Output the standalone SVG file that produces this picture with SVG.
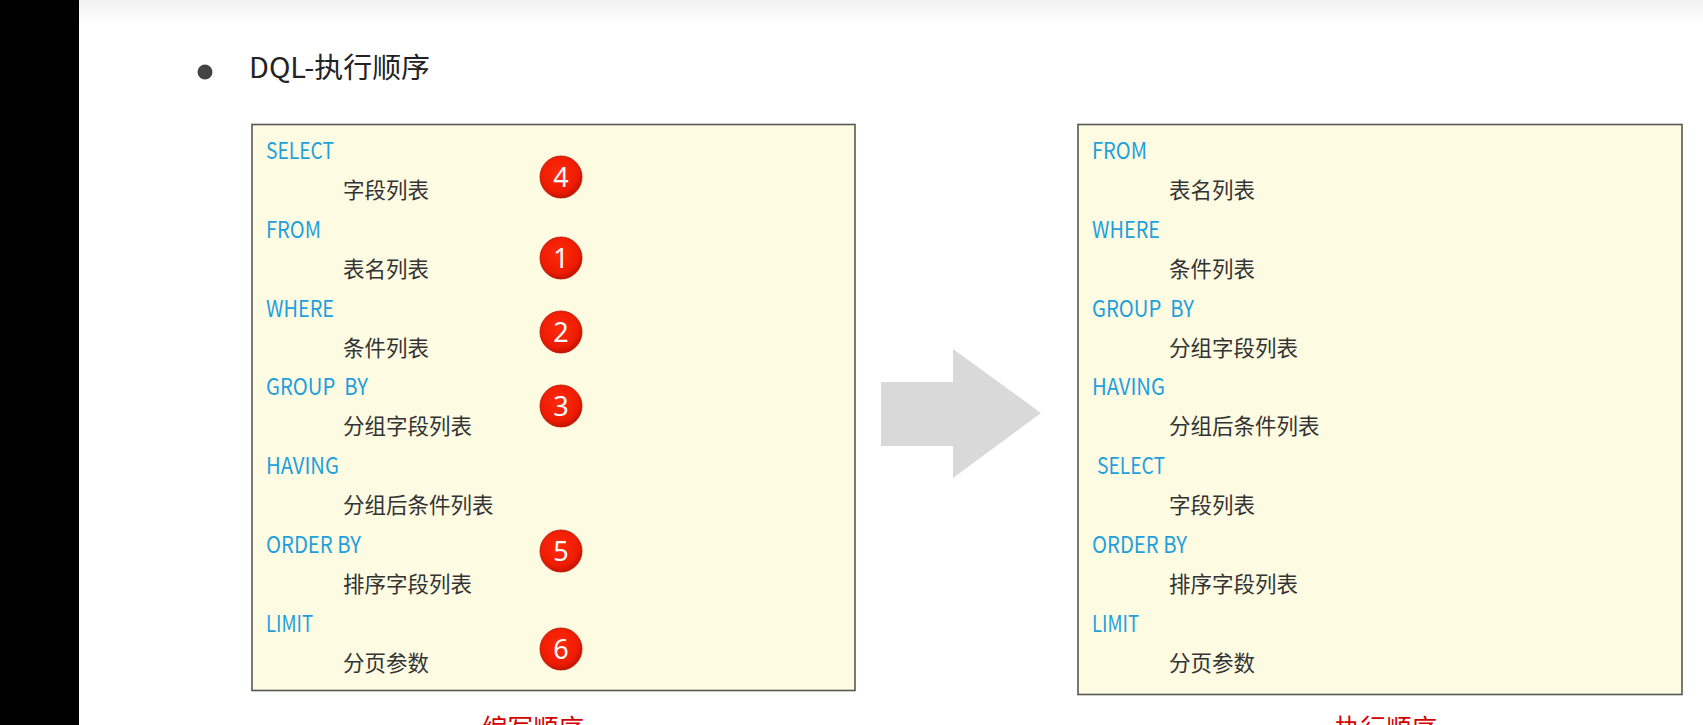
<svg xmlns="http://www.w3.org/2000/svg" width="1703" height="725" viewBox="0 0 1703 725">
<defs>
<linearGradient id="topband" x1="0" y1="0" x2="0" y2="1">
<stop offset="0" stop-color="#f1f1f1"/>
<stop offset="1" stop-color="#ffffff"/>
</linearGradient>
<radialGradient id="redball" cx="0.45" cy="0.4" r="0.6">
<stop offset="0" stop-color="#ff2a0c"/>
<stop offset="0.75" stop-color="#ee1c02"/>
<stop offset="1" stop-color="#c81200"/>
</radialGradient>
<style>
.box{fill:#fefbe3;stroke:#595953;stroke-width:1.6}
.kw{font-family:"Noto Sans CJK SC","Noto Sans",sans-serif;font-size:23px;fill:#1ea0dc;white-space:pre}
.cn{font-family:"Noto Sans CJK SC",sans-serif;font-size:21.5px;fill:#333333}
.ball{fill:url(#redball);stroke:#b51000;stroke-width:0.8}
.num{font-family:"Noto Sans","Noto Sans CJK SC",sans-serif;font-size:27px;fill:#ffffff;text-anchor:middle}
.title{font-family:"Noto Sans CJK SC",sans-serif;font-size:28px;fill:#222222}
.cap{font-family:"Noto Sans CJK SC",sans-serif;font-size:26px;fill:#d40000}
</style>
</defs>
<rect x="0" y="0" width="1703" height="725" fill="#ffffff"/>
<rect x="0" y="0" width="1703" height="26" fill="url(#topband)"/>
<rect x="0" y="0" width="79" height="725" fill="#000000"/>

<g id="title">
<circle cx="205" cy="72" r="7.5" fill="#444444"/>
<text class="title" x="249" y="78" textLength="181" lengthAdjust="spacingAndGlyphs">DQL-执行顺序</text>
</g>

<g id="write-order">
<rect class="box" x="252" y="124.5" width="603" height="566"/>
<text class="kw" x="266" y="159" textLength="68" lengthAdjust="spacingAndGlyphs">SELECT</text>
<text class="cn" x="343" y="198">字段列表</text>
<text class="kw" x="266" y="238" textLength="55" lengthAdjust="spacingAndGlyphs">FROM</text>
<text class="cn" x="343" y="277">表名列表</text>
<text class="kw" x="266" y="317" textLength="68" lengthAdjust="spacingAndGlyphs">WHERE</text>
<text class="cn" x="343" y="356">条件列表</text>
<text class="kw" x="266" y="395" textLength="102" lengthAdjust="spacingAndGlyphs">GROUP&#160; BY</text>
<text class="cn" x="343" y="434">分组字段列表</text>
<text class="kw" x="266" y="474" textLength="73" lengthAdjust="spacingAndGlyphs">HAVING</text>
<text class="cn" x="343" y="513">分组后条件列表</text>
<text class="kw" x="266" y="553" textLength="95" lengthAdjust="spacingAndGlyphs">ORDER BY</text>
<text class="cn" x="343" y="592">排序字段列表</text>
<text class="kw" x="266" y="632" textLength="47" lengthAdjust="spacingAndGlyphs">LIMIT</text>
<text class="cn" x="343" y="671">分页参数</text>
</g>

<g id="step-4"><circle class="ball" cx="561" cy="177" r="21"/><text class="num" x="561" y="186.5">4</text></g>
<g id="step-1"><circle class="ball" cx="561" cy="258" r="21"/><text class="num" x="561" y="267.5">1</text></g>
<g id="step-2"><circle class="ball" cx="561" cy="332" r="21"/><text class="num" x="561" y="341.5">2</text></g>
<g id="step-3"><circle class="ball" cx="561" cy="406" r="21"/><text class="num" x="561" y="415.5">3</text></g>
<g id="step-5"><circle class="ball" cx="561" cy="551" r="21"/><text class="num" x="561" y="560.5">5</text></g>
<g id="step-6"><circle class="ball" cx="561" cy="649" r="21"/><text class="num" x="561" y="658.5">6</text></g>

<g id="connectors">
<polygon points="881,382 953,382 953,349 1041,413 953,478 953,446 881,446" fill="#d9d9d9"/>
</g>

<g id="exec-order">
<rect class="box" x="1078" y="124.5" width="604" height="570"/>
<text class="kw" x="1092" y="159" textLength="55" lengthAdjust="spacingAndGlyphs">FROM</text>
<text class="cn" x="1169" y="198">表名列表</text>
<text class="kw" x="1092" y="238" textLength="68" lengthAdjust="spacingAndGlyphs">WHERE</text>
<text class="cn" x="1169" y="277">条件列表</text>
<text class="kw" x="1092" y="317" textLength="102" lengthAdjust="spacingAndGlyphs">GROUP&#160; BY</text>
<text class="cn" x="1169" y="356">分组字段列表</text>
<text class="kw" x="1092" y="395" textLength="73" lengthAdjust="spacingAndGlyphs">HAVING</text>
<text class="cn" x="1169" y="434">分组后条件列表</text>
<text class="kw" x="1097" y="474" textLength="68" lengthAdjust="spacingAndGlyphs">SELECT</text>
<text class="cn" x="1169" y="513">字段列表</text>
<text class="kw" x="1092" y="553" textLength="95" lengthAdjust="spacingAndGlyphs">ORDER BY</text>
<text class="cn" x="1169" y="592">排序字段列表</text>
<text class="kw" x="1092" y="632" textLength="47" lengthAdjust="spacingAndGlyphs">LIMIT</text>
<text class="cn" x="1169" y="671">分页参数</text>
</g>

<g id="labels">
<text class="cap" x="482" y="738" textLength="102" lengthAdjust="spacingAndGlyphs">编写顺序</text>
<text class="cap" x="1335" y="738" textLength="102" lengthAdjust="spacingAndGlyphs">执行顺序</text>
</g>
</svg>
